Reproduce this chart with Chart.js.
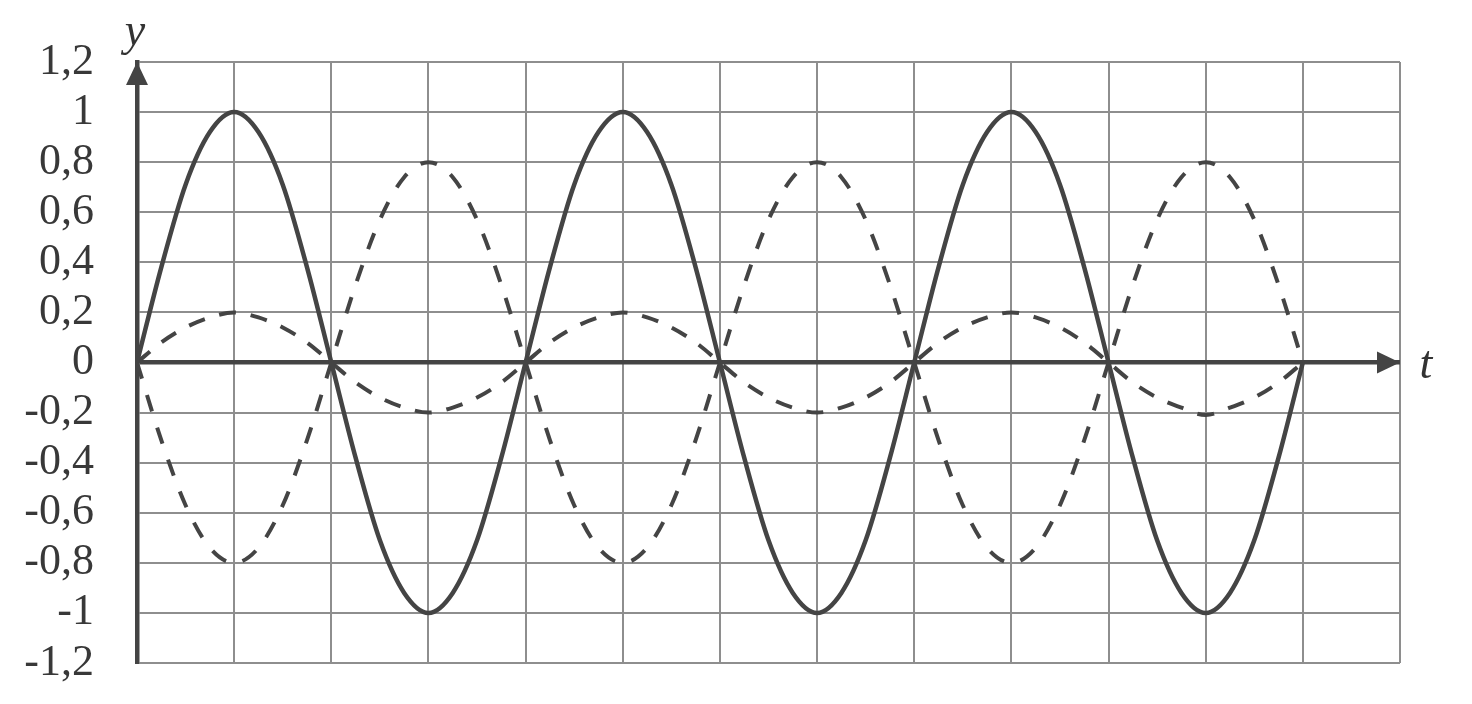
<!DOCTYPE html>
<html>
<head>
<meta charset="utf-8">
<script src="https://cdn.jsdelivr.net/npm/chart.js@4"></script>
<style>
  html, body { margin: 0; padding: 0; background: #ffffff; }
  #wrap { width: 1472px; height: 704px; }
</style>
</head>
<body>
<div id="wrap"><canvas id="myChart" width="1472" height="704"></canvas></div>
<script>
// t values, read every quarter grid step
const tValues = [
    0, 0.25, 0.5, 0.75, 1, 1.25, 1.5, 1.75, 2, 2.25, 2.5, 2.75, 3, 3.25, 3.5, 3.75,
    4, 4.25, 4.5, 4.75, 5, 5.25, 5.5, 5.75, 6, 6.25, 6.5, 6.75, 7, 7.25, 7.5, 7.75,
    8, 8.25, 8.5, 8.75, 9, 9.25, 9.5, 9.75, 10, 10.25, 10.5, 10.75, 11, 11.25, 11.5, 11.75,
    12
];
// solid curve
const solidY = [
    0, 0.38, 0.71, 0.92, 1, 0.92, 0.71, 0.38, 0, -0.38, -0.71, -0.92, -1, -0.92, -0.71, -0.38,
    0, 0.38, 0.71, 0.92, 1, 0.92, 0.71, 0.38, 0, -0.38, -0.71, -0.92, -1, -0.92, -0.71, -0.38,
    0, 0.38, 0.71, 0.92, 1, 0.92, 0.71, 0.38, 0, -0.38, -0.71, -0.92, -1, -0.92, -0.71, -0.38,
    0
];
// large dashed curve
const bigDashY = [
    0, -0.31, -0.57, -0.74, -0.8, -0.74, -0.57, -0.31, 0, 0.31, 0.57, 0.74, 0.8, 0.74, 0.57, 0.31,
    0, -0.31, -0.57, -0.74, -0.8, -0.74, -0.57, -0.31, 0, 0.31, 0.57, 0.74, 0.8, 0.74, 0.57, 0.31,
    0, -0.31, -0.57, -0.74, -0.8, -0.74, -0.57, -0.31, 0, 0.31, 0.57, 0.74, 0.8, 0.74, 0.57, 0.31,
    0
];
// small dashed curve
const smallDashY = [
    0, 0.08, 0.14, 0.18, 0.2, 0.18, 0.14, 0.08, 0, -0.08, -0.14, -0.18, -0.2, -0.18, -0.14, -0.08,
    0, 0.08, 0.14, 0.18, 0.2, 0.18, 0.14, 0.08, 0, -0.08, -0.14, -0.18, -0.2, -0.18, -0.14, -0.08,
    0, 0.08, 0.14, 0.18, 0.2, 0.18, 0.14, 0.08, 0, -0.08, -0.14, -0.18, -0.21, -0.18, -0.14, -0.08,
    0
];

const xGridValues = [0, 1, 2, 3, 4, 5, 6, 7, 8, 9, 10, 11, 12, 13];
const yTickValues = [-1.2, -1, -0.8, -0.6, -0.4, -0.2, 0, 0.2, 0.4, 0.6, 0.8, 1, 1.2];
const yTickLabels = ['-1,2', '-1', '-0,8', '-0,6', '-0,4', '-0,2', '0', '0,2', '0,4', '0,6', '0,8', '1', '1,2'];

const ink = '#444444';
const gridColor = '#8e8e8e';

function toPoints(ys) {
    return ys.map(function (y, i) { return { x: tValues[i], y: y }; });
}

// arrows and axis letters
const axisArrows = {
    id: 'axisArrows',
    afterDraw: function (chart) {
        const c = chart.ctx;
        const x = chart.scales.x, y = chart.scales.y;
        const x0 = x.getPixelForValue(0);
        const y0 = y.getPixelForValue(0);
        const top = y.getPixelForValue(1.2);
        const right = x.getPixelForValue(13);
        c.save();
        c.fillStyle = ink;
        c.beginPath();
        c.moveTo(x0, top);
        c.lineTo(x0 - 11, top + 23);
        c.lineTo(x0 + 11, top + 23);
        c.closePath();
        c.fill();
        c.beginPath();
        c.moveTo(right, y0);
        c.lineTo(right - 23, y0 - 11);
        c.lineTo(right - 23, y0 + 11);
        c.closePath();
        c.fill();
        c.fillStyle = '#333333';
        c.font = 'italic 46px "Liberation Serif"';
        c.textAlign = 'center';
        c.textBaseline = 'alphabetic';
        c.fillText('y', x0 - 2, top - 17);
        c.fillText('t', right + 26, y0 + 15);
        c.restore();
    }
};

const ctx = document.getElementById('myChart');

new Chart(ctx, {
    type: 'line',
    data: {
        datasets: [{
            label: 'solid',
            data: toPoints(solidY),
            borderColor: ink,
            borderWidth: 4.5,
        }, {
            label: 'big dashed',
            data: toPoints(bigDashY),
            borderColor: ink,
            borderWidth: 4,
            borderDash: [17, 17],
        }, {
            label: 'small dashed',
            data: toPoints(smallDashY),
            borderColor: ink,
            borderWidth: 4,
            borderDash: [17, 15],
        }]
    },
    options: {
        responsive: false,
        animation: false,
        devicePixelRatio: 1,
        layout: { padding: { top: 62, right: 72, bottom: 41, left: 0 } },
        elements: {
            point: { radius: 0 },
            line: { cubicInterpolationMode: 'monotone', fill: false }
        },
        plugins: {
            legend: { display: false },
            tooltip: { enabled: false }
        },
        scales: {
            x: {
                type: 'linear',
                min: 0,
                max: 13,
                afterBuildTicks: function (axis) {
                    axis.ticks = xGridValues.map(function (v) { return { value: v }; });
                },
                afterFit: function (axis) {
                    axis.height = 0;
                    axis.paddingLeft = 0;
                    axis.paddingRight = 0;
                },
                ticks: { display: false, autoSkip: false },
                border: { display: false },
                grid: {
                    drawTicks: false,
                    color: gridColor,
                    lineWidth: 2
                }
            },
            y: {
                type: 'linear',
                min: -1.2,
                max: 1.2,
                afterBuildTicks: function (axis) {
                    axis.ticks = yTickValues.map(function (v) { return { value: v }; });
                },
                afterFit: function (axis) {
                    axis.width = 137;
                    axis.paddingTop = 0;
                    axis.paddingBottom = 0;
                },
                ticks: {
                    autoSkip: false,
                    padding: 43,
                    color: '#383838',
                    font: { family: '"Liberation Serif"', size: 44 },
                    callback: function (value, index) { return yTickLabels[index]; }
                },
                border: { display: true, color: ink, width: 4.5 },
                grid: {
                    drawTicks: false,
                    color: function (c) { return c.tick && c.tick.value === 0 ? ink : gridColor; },
                    lineWidth: function (c) { return c.tick && c.tick.value === 0 ? 4.5 : 2; }
                }
            }
        }
    },
    plugins: [axisArrows]
});
</script>
</body>
</html>
